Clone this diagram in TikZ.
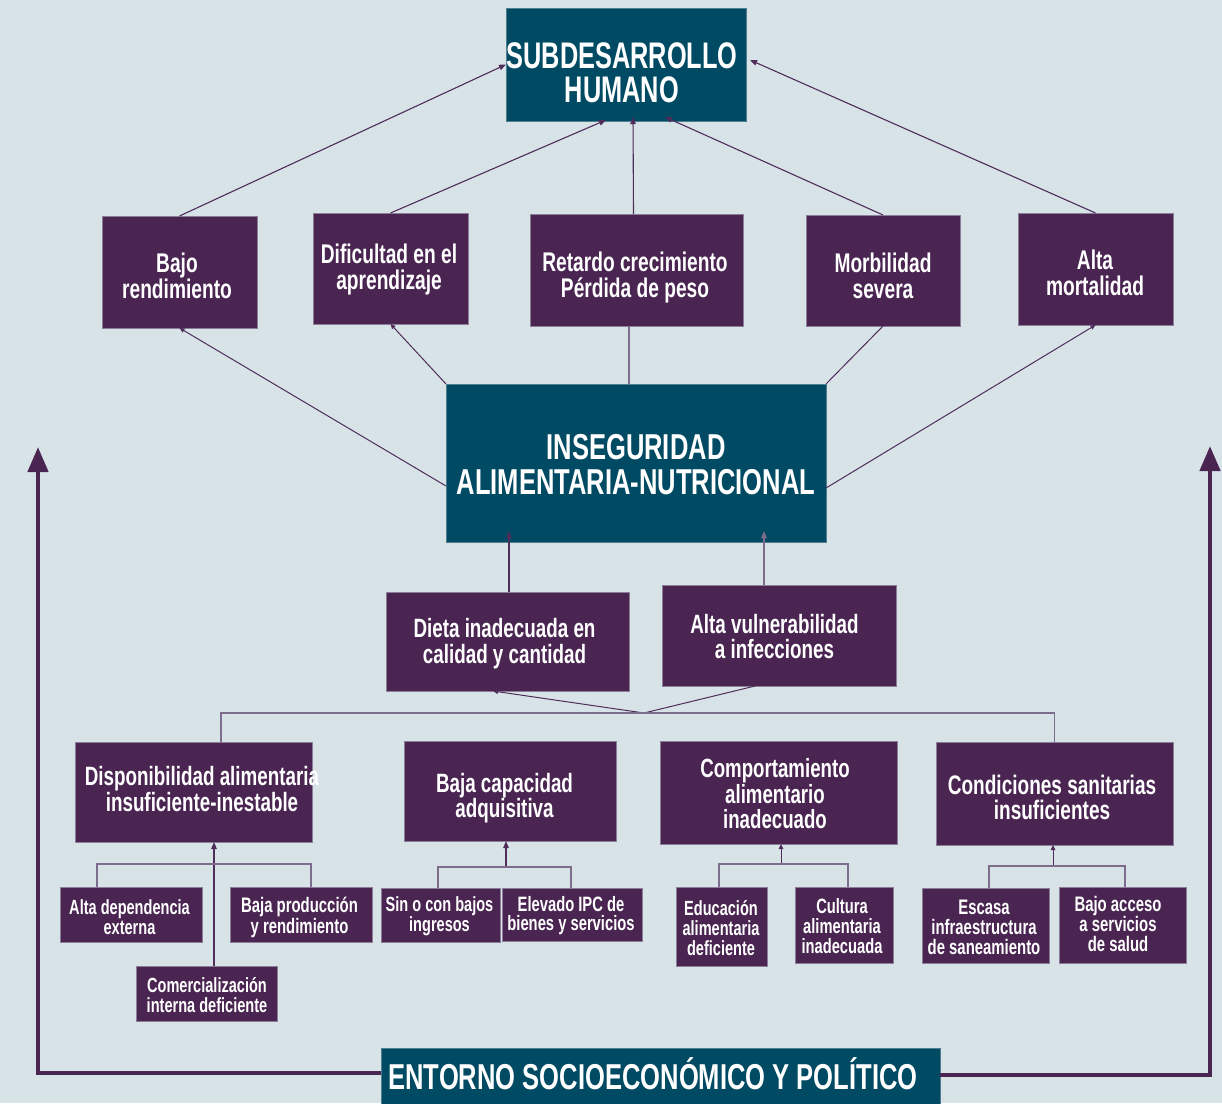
\documentclass[tikz,border=0pt]{standalone}
\usepackage{fontspec}
\newfontfamily\cond[FakeStretch=0.71]{Liberation Sans}
\newfontfamily\condb[FakeStretch=0.685]{Liberation Sans}
\usetikzlibrary{arrows.meta,calc}
\definecolor{bgc}{HTML}{D8E3E8}
\definecolor{tealc}{HTML}{004B63}
\definecolor{purp}{HTML}{4A2552}
\definecolor{bedge}{HTML}{8C7E98}
\definecolor{tedge}{HTML}{4F7E90}
\definecolor{lnk}{HTML}{4F2D5A}
\definecolor{lnkg}{HTML}{7E6C8C}
\newcommand{\fsz}[2]{\cond\bfseries\fontsize{#1}{#2}\selectfont}
\newcommand{\fszb}[2]{\condb\bfseries\fontsize{#1}{#2}\selectfont}
\begin{document}
\begin{tikzpicture}[x=1pt,y=-1pt,
  tbox/.style={fill=tealc, draw=tedge, line width=0.8pt, inner sep=0pt, outer sep=0pt},
  pbox/.style={fill=purp, draw=bedge, line width=0.8pt, inner sep=0pt, outer sep=0pt},
  lbl/.style={text=white, align=center, inner sep=0pt},
  arr/.style={draw=lnk, line width=1.1pt, -{Triangle[length=7pt,width=5.5pt]}},
  arrs/.style={draw=lnk, line width=1pt, -{Triangle[length=5pt,width=4.5pt]}},
  arrg/.style={draw=lnkg, line width=1.1pt, -{Triangle[length=7pt,width=5.5pt]}},
  linep/.style={draw=lnk, line width=1pt},
  lineg/.style={draw=lnkg, line width=1.2pt},
  bigarr/.style={draw=purp, line width=4.5pt, -{Triangle[length=25pt,width=20pt]}}
]
\path[use as bounding box, fill=bgc] (0,0) rectangle (1222,1103);

% ---------- boxes ----------
\node[tbox, minimum width=240pt, minimum height=113pt] (sub) at (626,64.5) {};
\node[pbox, minimum width=155pt, minimum height=112pt] (bajo) at (179.5,272) {};
\node[pbox, minimum width=155pt, minimum height=111pt] (dific) at (390.5,268.5) {};
\node[pbox, minimum width=213pt, minimum height=112pt] (ret) at (636.5,270) {};
\node[pbox, minimum width=154pt, minimum height=111pt] (morb) at (883,270.5) {};
\node[pbox, minimum width=155pt, minimum height=112pt] (almort) at (1095.5,269) {};
\node[tbox, minimum width=380pt, minimum height=158pt] (ins) at (636,463) {};
\node[pbox, minimum width=243pt, minimum height=99pt] (dieta) at (507.5,641.5) {};
\node[pbox, minimum width=234pt, minimum height=101pt] (vuln) at (779,635.5) {};
\node[pbox, minimum width=237pt, minimum height=100pt] (disp) at (193.5,792) {};
\node[pbox, minimum width=212pt, minimum height=100pt] (bcap) at (510,791) {};
\node[pbox, minimum width=237pt, minimum height=103pt] (comp) at (778.5,792.5) {};
\node[pbox, minimum width=237pt, minimum height=103pt] (cond) at (1054.5,793.5) {};
\node[pbox, minimum width=142pt, minimum height=55pt] (altadep) at (131,914.5) {};
\node[pbox, minimum width=142pt, minimum height=55pt] (bprod) at (301,914.5) {};
\node[pbox, minimum width=141pt, minimum height=55pt] (comer) at (206.5,993.5) {};
\node[pbox, minimum width=119pt, minimum height=54pt] (sin) at (440.5,915) {};
\node[pbox, minimum width=140pt, minimum height=53pt] (ipc) at (572,914.5) {};
\node[pbox, minimum width=91pt, minimum height=79pt] (edu) at (721.5,926.5) {};
\node[pbox, minimum width=98pt, minimum height=76pt] (cult) at (844,925) {};
\node[pbox, minimum width=127pt, minimum height=75pt] (esc) at (985.5,925.5) {};
\node[pbox, minimum width=127pt, minimum height=76pt] (bacc) at (1122.5,925) {};
\node[tbox, minimum width=559pt, minimum height=60pt] (ent) at (660.5,1078) {};

% ---------- connectors ----------
\draw[arr] (bajo.north) -- (sub.west);
\draw[arr] (dific.north) -- ($(sub.south)+(-20,-1)$);
\draw[arr] ($(ret.north)+(-3,0)$) -- ($(sub.south)+(7,-4)$);
\draw[arr] (morb.north) -- ($(sub.south)+(39,-4)$);
\draw[arr] (almort.north) -- ($(sub.east)+(4,-4.5)$);

\draw[arrs] ($(ins.west)+(0,23)$) -- (bajo.south);
\draw[arrs] (ins.north west) -- (dific.south);
\draw[lineg] ($(ins.north)+(-7,0)$) -- ($(ret.south)+(-7.5,0)$);
\draw[linep] (ins.north east) -- (morb.south);
\draw[arrs] ($(ins.east)+(0,25)$) -- (almort.south);

\draw[arr] ($(dieta.north)+(1.5,0)$) -- ($(ins.south)+(-127,-11)$);
\draw[arrg] ($(vuln.north)+(-15,0)$) -- ($(ins.south)+(128,-11)$);

\coordinate (j) at (644,713);
\draw[arrs] (j) -- ($(dieta.south)+(-14.5,0)$);
\draw[linep] (j) -- ($(vuln.south)+(-24,0)$);
\draw[lineg] ($(disp.north)+(27.5,0)$) |- (j) -| (cond.north);

\draw[arr] ($(comer.north)+(7.5,0)$) -- ($(disp.south)+(20.5,0)$);
\draw[lineg] ($(altadep.north)+(-34,0)$) -- ++(0,-23) -| ($(bprod.north)+(10,0)$);

\coordinate (bj) at (506,867);
\draw[arr] (bj) -- ($(bcap.south)+(-4,0)$);
\draw[lineg] ($(sin.north)+(-2.5,0)$) |- (bj) -| ($(ipc.north)+(-1,0)$);

\coordinate (cj) at (781,864);
\draw[arrs] (cj) -- ($(comp.south)+(2.5,0)$);
\draw[lineg] ($(edu.north)+(-2.5,0)$) |- (cj) -| ($(cult.north)+(4,0)$);

\coordinate (kj) at (1053,866);
\draw[arrs] (kj) -- ($(cond.south)+(-1.5,0)$);
\draw[lineg] ($(esc.north)+(3.5,0)$) |- (kj) -| ($(bacc.north)+(2.5,0)$);

\coordinate (lt) at (38,447);
\coordinate (rt) at (1210,446);
\draw[bigarr] ($(ent.west)+(0,-5)$) -| (lt);
\draw[bigarr] ($(ent.east)+(0,-3)$) -| (rt);

% ---------- texts ----------
\node[lbl, font=\fszb{37}{34}] (subT) at (622,73) {SUBDESARROLLO\\HUMANO};
\node[lbl, font=\fsz{27}{26}] (bajoT) at (177,275.5) {Bajo\\rendimiento};
\node[lbl, font=\fsz{27}{26}] (dificT) at (389,270) {Dificultad en el\\aprendizaje};
\node[lbl, font=\fsz{27}{26}] (retT) at (635,278) {Retardo crecimiento\\Pérdida de peso};
\node[lbl, font=\fsz{27}{26}] (morbT) at (883,276) {Morbilidad\\severa};
\node[lbl, font=\fsz{27}{26}] (almortT) at (1095,272.7) {Alta\\mortalidad};
\node[lbl, font=\fsz{36}{35}] (insT) at (636,464.5) {INSEGURIDAD\\ALIMENTARIA-NUTRICIONAL};
\node[lbl, font=\fsz{26.5}{26}] (dietaT) at (504.5,644) {Dieta inadecuada en\\calidad y cantidad};
\node[lbl, font=\fsz{26.5}{25}] (vulnT) at (774.5,636.8) {Alta vulnerabilidad\\a infecciones};
\node[lbl, font=\fsz{26.5}{26}] (dispT) at (202,789.5) {Disponibilidad alimentaria\\insuficiente-inestable};
\node[lbl, font=\fsz{26.5}{25}] (bcapT) at (504.5,798.5) {Baja capacidad\\adquisitiva};
\node[lbl, font=\fsz{26.3}{25.5}] (compT) at (775,794) {Comportamiento\\alimentario\\inadecuado};
\node[lbl, font=\fsz{26.8}{25}] (condT) at (1052,797.5) {Condiciones sanitarias\\insuficientes};
\node[lbl, font=\fsz{20.5}{20}] (altadepT) at (129.5,917.5) {Alta dependencia\\externa};
\node[lbl, font=\fsz{21}{21}] (bprodT) at (299.5,917.5) {Baja producción\\y rendimiento};
\node[lbl, font=\fsz{20.5}{20}] (comerT) at (207,995.5) {Comercialización\\interna deficiente};
\node[lbl, font=\fsz{20.5}{18.5}] (sinT) at (439.5,916) {Sin o con bajos\\ingresos};
\node[lbl, font=\fsz{20.8}{19}] (ipcT) at (571,915.5) {Elevado IPC de\\bienes y servicios};
\node[lbl, font=\fsz{20.5}{20}] (eduT) at (721,928.5) {Educación\\alimentaria\\deficiente};
\node[lbl, font=\fsz{20.7}{20}] (cultT) at (842,926.5) {Cultura\\alimentaria\\inadecuada};
\node[lbl, font=\fsz{21}{20}] (escT) at (984,927) {Escasa\\infraestructura\\de saneamiento};
\node[lbl, font=\fsz{21}{20}] (baccT) at (1118,923.5) {Bajo acceso\\a servicios\\de salud};
\node[lbl, font=\fsz{36}{36}] (entT) at (653,1074) {ENTORNO SOCIOECONÓMICO Y POLÍTICO};
\end{tikzpicture}
\end{document}
